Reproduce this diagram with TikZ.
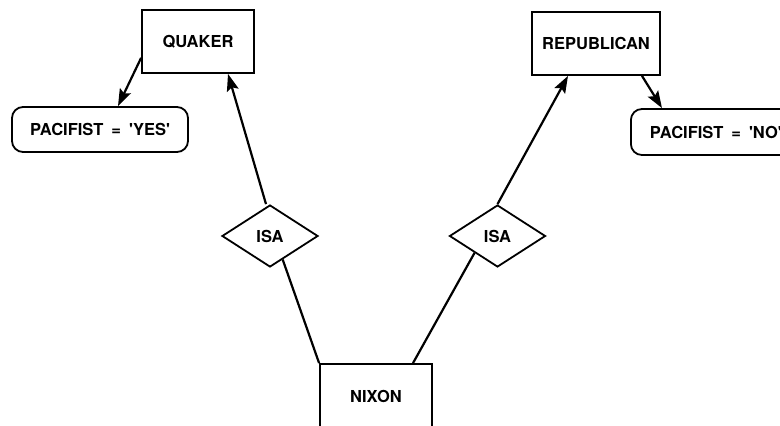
\documentclass[tikz,border=0pt]{standalone}
\usepackage{fontspec}
\setmainfont{TeX Gyre Heros}
\usetikzlibrary{shapes.geometric,arrows.meta,calc}
\tikzset{
  ent/.style={draw, line width=1.8pt, inner sep=0pt, font=\fontsize{16.5}{18}\selectfont\bfseries},
  attr/.style={draw, line width=1.8pt, rounded corners=11pt, inner sep=0pt, font=\fontsize{16.5}{18}\selectfont\bfseries},
  rel/.style={draw, diamond, line width=1.8pt, inner sep=0pt, minimum width=96pt, minimum height=62pt, font=\fontsize{16.5}{18}\selectfont\bfseries},
  link/.style={line width=2.2pt},
  arr/.style={line width=2.2pt, -{Stealth[length=17pt,width=12pt,inset=3pt]}}
}
\newcommand{\eqgap}{\hspace{8pt}=\hspace{8pt}}
\begin{document}
\begin{tikzpicture}[x=1pt,y=-1pt]
\useasboundingbox (0,0) rectangle (780,426);
\clip (0,0) rectangle (780,426);
\node[ent, minimum width=112pt, minimum height=63pt] (quaker) at (198,41.5) {QUAKER};
\node[ent, minimum width=128pt, minimum height=63pt] (rep) at (596,43.5) {REPUBLICAN};
\node[attr, minimum width=176pt, minimum height=45pt] (yes) at (100,129.5) {PACIFIST\eqgap\textquotesingle YES\textquotesingle};
\node[attr, minimum width=170pt, minimum height=46pt, anchor=west, inner xsep=9pt] (no) at (630,132) {PACIFIST\eqgap\textquotesingle NO\textquotesingle};
\node[rel] (isaL) at (270,236) {ISA};
\node[rel] (isaR) at (497.5,236) {ISA};
\node[ent, minimum width=112pt, minimum height=64pt] (nixon) at (376,396) {NIXON};

\draw[arr] ([yshift=16pt]quaker.south west) -- ([xshift=18pt]yes.north);
\draw[arr] ([xshift=-4pt]isaL.north) -- ([xshift=30pt]quaker.south);
\draw[link] (nixon.north west) -- ($(isaL.east)!0.74!(isaL.south)$);
\draw[arr] (isaR.north) -- ([xshift=-28pt]rep.south);
\draw[link] ([xshift=37pt]nixon.north) -- ($(isaR.west)!0.53!(isaR.south)$);
\draw[arr] ([xshift=46pt]rep.south) -- ([xshift=32pt]no.north west);
\end{tikzpicture}
\end{document}
